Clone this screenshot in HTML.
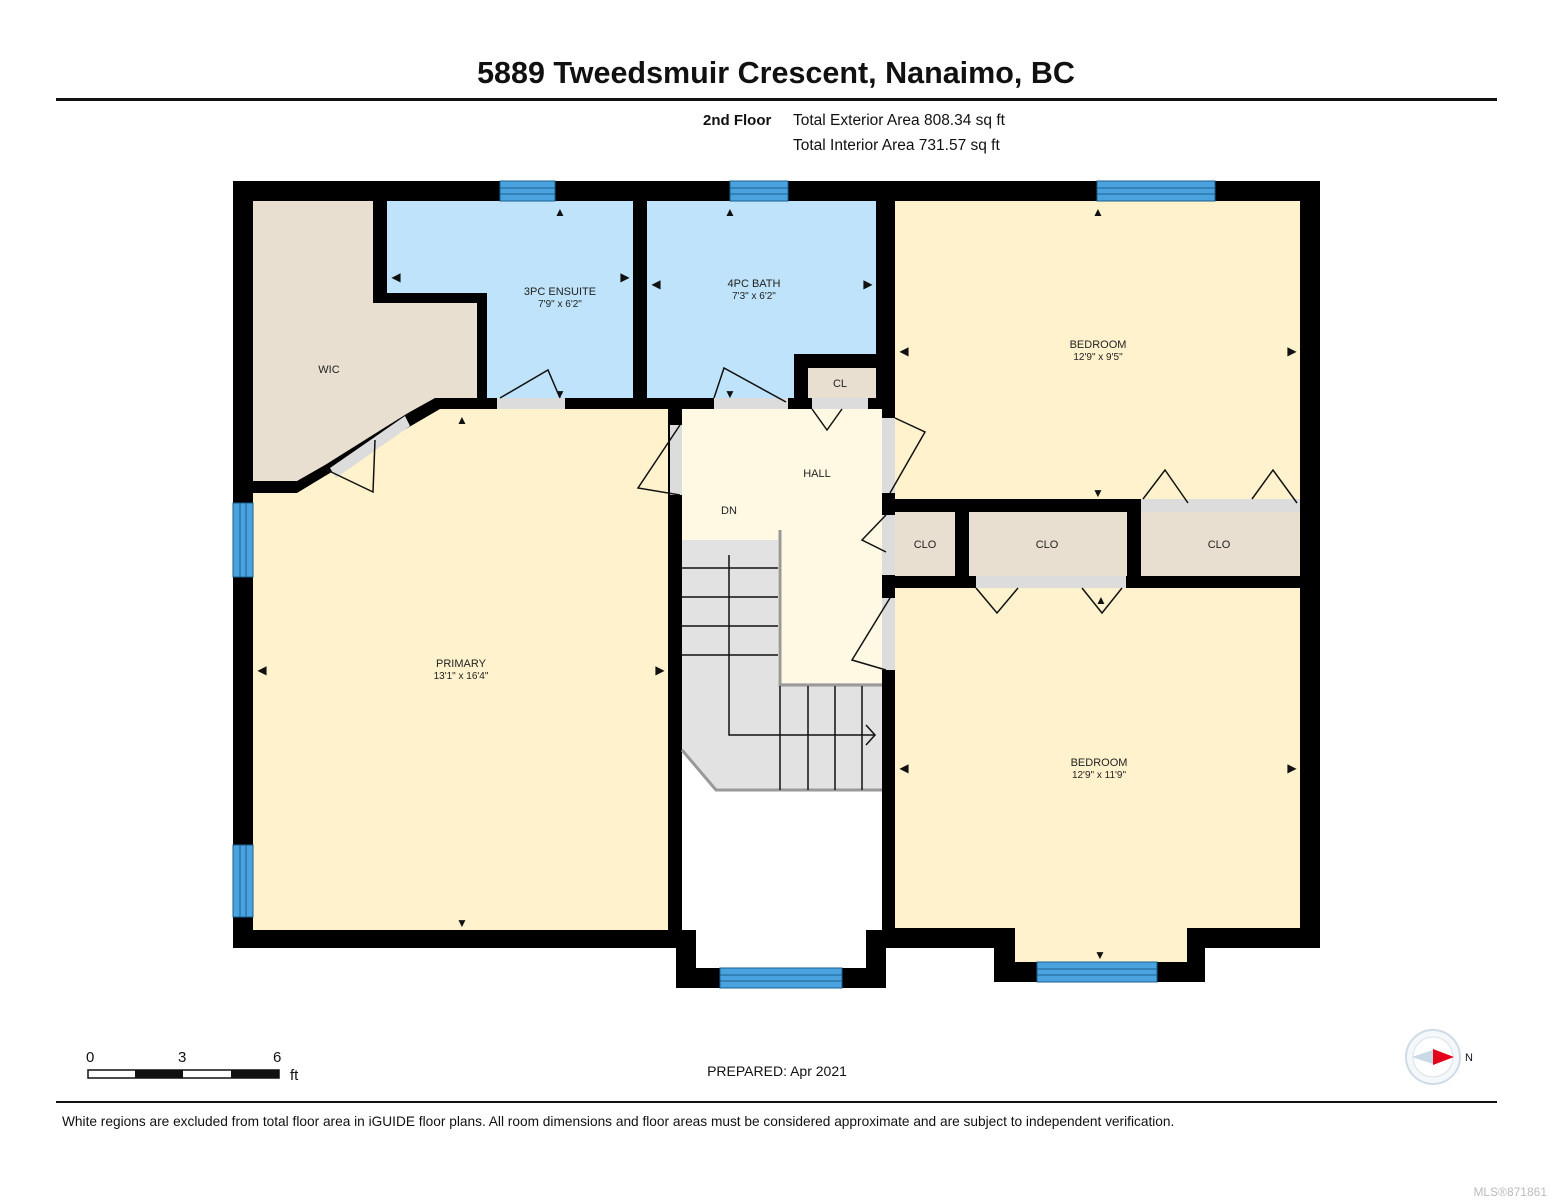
<!DOCTYPE html>
<html><head><meta charset="utf-8"><style>
body{margin:0;background:#fff;}
svg{display:block;font-family:"Liberation Sans",Arial,sans-serif;}
</style></head><body>
<svg width="1553" height="1200" viewBox="0 0 1553 1200" xmlns="http://www.w3.org/2000/svg">
<rect width="1553" height="1200" fill="#fff"/>
<text x="776" y="83" text-anchor="middle" font-size="30.5" font-weight="bold" fill="#111">5889 Tweedsmuir Crescent, Nanaimo, BC</text>
<rect x="56" y="98" width="1441" height="3" fill="#111"/>
<text x="703" y="125" font-size="15" font-weight="bold" fill="#111">2nd Floor</text>
<text x="793" y="125" font-size="15.5" fill="#111">Total Exterior Area 808.34 sq ft</text>
<text x="793" y="150" font-size="15.5" fill="#111">Total Interior Area 731.57 sq ft</text>

<polygon points="233,181 1320,181 1320,948 1205,948 1205,982 994,982 994,948 886,948 886,988 676,988 676,948 233,948" fill="#000"/>

<polygon points="253,201 373,201 373,303 477,303 477,398 435,398 408,413 325,465 297,481 253,481" fill="#e8dfd0"/>
<polygon points="387,201 633,201 633,398 487,398 487,293 387,293" fill="#bee3fa"/>
<polygon points="647,201 876,201 876,354 794,354 794,398 647,398" fill="#bee3fa"/>
<rect x="808" y="368" width="68" height="30" fill="#e8dfd0"/>
<rect x="895" y="201" width="405" height="298" fill="#fff2cc"/>
<polygon points="253,493 297,493 325,476 440,409 668,409 668,930 253,930" fill="#fff2cc"/>
<rect x="682" y="409" width="200" height="274" fill="#fff8e3"/>
<polygon points="682,683 882,683 882,930 866,930 866,968 696,968 696,930 682,930" fill="#fff"/>
<polygon points="682,540 778,540 778,683 882,683 882,790 716,790 682,750" fill="#e2e2e2"/>
<polyline points="780,530 780,685 882,685" fill="none" stroke="#999" stroke-width="3"/>
<polyline points="682,750 716,790 882,790" fill="none" stroke="#999" stroke-width="3"/>
<g stroke="#111" stroke-width="1.5" fill="none">
<line x1="682" y1="568" x2="778" y2="568"/><line x1="682" y1="597" x2="778" y2="597"/>
<line x1="682" y1="626" x2="778" y2="626"/><line x1="682" y1="655" x2="778" y2="655"/>
<line x1="780" y1="686" x2="780" y2="790"/><line x1="808" y1="686" x2="808" y2="790"/>
<line x1="835" y1="686" x2="835" y2="790"/><line x1="862" y1="686" x2="862" y2="790"/>
<polyline points="729,555 729,735 875,735"/><polyline points="866,725 875,735 866,745"/>
</g>
<rect x="895" y="512" width="60" height="64" fill="#e8dfd0"/>
<rect x="969" y="512" width="158" height="64" fill="#e8dfd0"/>
<rect x="1141" y="512" width="159" height="64" fill="#e8dfd0"/>
<polygon points="895,588 1300,588 1300,928 1187,928 1187,962 1015,962 1015,928 895,928" fill="#fff2cc"/>

<g fill="#dcdcdc">
<rect x="497" y="398" width="68" height="11"/>
<rect x="714" y="398" width="74" height="11"/>
<rect x="812" y="398" width="56" height="11"/>
<rect x="670" y="425" width="12" height="70"/>
<rect x="882" y="418" width="13" height="75"/>
<rect x="882" y="515" width="13" height="60"/>
<rect x="882" y="598" width="13" height="72"/>
<rect x="1141" y="499" width="159" height="13"/>
<rect x="976" y="576" width="150" height="12"/>
<polygon points="330,468 405,416 410,426 336,478"/>
</g>
<g stroke="#111" stroke-width="1.5" fill="none">
<polyline points="500,398 548,370 560,398"/>
<polyline points="714,398 724,368 786,402"/>
<polyline points="812,409 827,430 842,409"/>
<polyline points="680,425 638,488 680,495"/>
<polyline points="895,418 925,432 890,493"/>
<polyline points="886,515 862,540 886,552"/>
<polyline points="890,598 852,660 886,670"/>
<polyline points="327,470 373,492 375,440"/>
<polyline points="1143,499 1165,470 1188,503"/>
<polyline points="1252,499 1273,470 1297,503"/>
<polyline points="976,588 997,613 1018,588"/>
<polyline points="1082,588 1102,613 1122,588"/>
</g>
<g fill="#4aa3df" stroke="#1a5f8f" stroke-width="1">
<rect x="500" y="181" width="55" height="20"/>
<rect x="730" y="181" width="58" height="20"/>
<rect x="1097" y="181" width="118" height="20"/>
<rect x="233" y="503" width="20" height="74"/>
<rect x="233" y="845" width="20" height="72"/>
<rect x="720" y="968" width="122" height="20"/>
<rect x="1037" y="962" width="120" height="20"/>
</g>
<g stroke="#1a5f8f" stroke-width="1">
<line x1="500" y1="188" x2="555" y2="188"/><line x1="500" y1="194" x2="555" y2="194"/>
<line x1="730" y1="188" x2="788" y2="188"/><line x1="730" y1="194" x2="788" y2="194"/>
<line x1="1097" y1="188" x2="1215" y2="188"/><line x1="1097" y1="194" x2="1215" y2="194"/>
<line x1="240" y1="503" x2="240" y2="577"/><line x1="246" y1="503" x2="246" y2="577"/>
<line x1="240" y1="845" x2="240" y2="917"/><line x1="246" y1="845" x2="246" y2="917"/>
<line x1="720" y1="975" x2="842" y2="975"/><line x1="720" y1="981" x2="842" y2="981"/>
<line x1="1037" y1="969" x2="1157" y2="969"/><line x1="1037" y1="975" x2="1157" y2="975"/>
</g>
<g fill="#111" font-size="12">
<text x="560" y="216" text-anchor="middle">▲</text>
<text x="730" y="216" text-anchor="middle">▲</text>
<text x="1098" y="216" text-anchor="middle">▲</text>
<text x="462" y="424" text-anchor="middle">▲</text>
<text x="1101" y="604" text-anchor="middle">▲</text>
<text x="560" y="398" text-anchor="middle">▼</text>
<text x="730" y="398" text-anchor="middle">▼</text>
<text x="1098" y="497" text-anchor="middle">▼</text>
<text x="462" y="927" text-anchor="middle">▼</text>
<text x="1100" y="959" text-anchor="middle">▼</text>
<text x="396" y="281" text-anchor="middle">◀</text>
<text x="625" y="281" text-anchor="middle">▶</text>
<text x="656" y="288" text-anchor="middle">◀</text>
<text x="868" y="288" text-anchor="middle">▶</text>
<text x="904" y="355" text-anchor="middle">◀</text>
<text x="1292" y="355" text-anchor="middle">▶</text>
<text x="262" y="674" text-anchor="middle">◀</text>
<text x="660" y="674" text-anchor="middle">▶</text>
<text x="904" y="772" text-anchor="middle">◀</text>
<text x="1292" y="772" text-anchor="middle">▶</text>
</g>
<g fill="#222" font-size="11" text-anchor="middle">
<text x="560" y="295">3PC ENSUITE</text><text x="560" y="307" font-size="10">7'9" x 6'2"</text>
<text x="754" y="287">4PC BATH</text><text x="754" y="299" font-size="10">7'3" x 6'2"</text>
<text x="1098" y="348">BEDROOM</text><text x="1098" y="360" font-size="10">12'9" x 9'5"</text>
<text x="329" y="373">WIC</text>
<text x="840" y="387">CL</text>
<text x="817" y="477">HALL</text>
<text x="729" y="514">DN</text>
<text x="925" y="548">CLO</text>
<text x="1047" y="548">CLO</text>
<text x="1219" y="548">CLO</text>
<text x="461" y="667">PRIMARY</text><text x="461" y="679" font-size="10">13'1" x 16'4"</text>
<text x="1099" y="766">BEDROOM</text><text x="1099" y="778" font-size="10">12'9" x 11'9"</text>
</g>

<g font-size="15" fill="#111">
<text x="86" y="1062">0</text><text x="178" y="1062">3</text><text x="273" y="1062">6</text>
<text x="290" y="1080">ft</text>
</g>
<rect x="88" y="1070" width="191" height="8" fill="#fff" stroke="#111" stroke-width="1.5"/>
<rect x="135" y="1070" width="48" height="8" fill="#111"/>
<rect x="231" y="1070" width="48" height="8" fill="#111"/>
<text x="777" y="1076" text-anchor="middle" font-size="14" fill="#111">PREPARED: Apr 2021</text>
<circle cx="1433" cy="1057" r="27" fill="#f4f8fb" stroke="#cfdbe5" stroke-width="2"/>
<circle cx="1433" cy="1057" r="20" fill="#fff" stroke="#d8e2ea" stroke-width="1"/>
<polygon points="1412,1057 1433,1050 1433,1064" fill="#c9d9e6"/>
<polygon points="1454,1057 1433,1049 1433,1065" fill="#e4001b"/>
<text x="1465" y="1061" font-size="11" fill="#111">N</text>
<rect x="56" y="1101" width="1441" height="2" fill="#111"/>
<text x="62" y="1126" font-size="13.7" fill="#111">White regions are excluded from total floor area in iGUIDE floor plans. All room dimensions and floor areas must be considered approximate and are subject to independent verification.</text>
<text x="1547" y="1196" text-anchor="end" font-size="12" fill="#bbb">MLS®871861</text>
</svg>
</body></html>
